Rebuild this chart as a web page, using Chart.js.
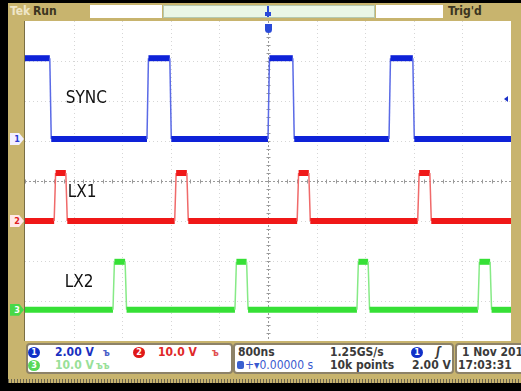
<!DOCTYPE html>
<html><head><meta charset="utf-8">
<script src="https://cdn.jsdelivr.net/npm/chart.js@4"></script>
<style>
html,body{margin:0;padding:0;background:#000;}
#scope{position:relative;width:521px;height:391px;overflow:hidden;background:#000;font-family:'Liberation Sans Narrow','DejaVu Sans Condensed',sans-serif;}
.a{position:absolute;white-space:nowrap;}
#frame{left:8px;top:3px;width:513px;height:376px;background:#c8b46e;}
#dots{left:8px;top:379px;width:513px;height:4px;background:repeating-linear-gradient(90deg,#6a6450 0 1px,#c8b46e 1px 3px);}
#plot{left:25px;top:21px;width:486px;height:320px;background:#fff;border-left:1px solid #7a6e44;margin-left:-1px;}
.tb{font-size:12px;font-weight:bold;top:4px;line-height:15px;}
.box{background:#fff;border:2px solid #8d8268;border-radius:4px;box-sizing:border-box;}
.t{font-size:12px;font-weight:bold;line-height:13px;color:#3a3a3a;}
.c{width:12px;height:11px;border-radius:50%;color:#fff;font-size:9px;font-weight:bold;text-align:center;line-height:11px;}
.mk{width:14px;height:12px;font-size:9px;font-weight:bold;line-height:12px;text-align:center;clip-path:polygon(0 0,65% 0,100% 50%,65% 100%,0 100%);}
</style></head>
<body>
<div id="scope">
  <div id="frame" class="a"></div>
  <div id="dots" class="a"></div>
  <!-- top bar -->
  <div class="a tb" style="left:10px;color:#efe6c8;">Tek</div>
  <div class="a tb" style="left:33px;color:#3b3520;">Run</div>
  <div class="a" style="left:90px;top:5px;width:72px;height:13px;background:#fff;"></div>
  <div class="a" style="left:163px;top:5px;width:212px;height:13px;background:#eaf6e6;border:1px solid #b5c9b0;box-sizing:border-box;"></div>
  <div class="a" style="left:376px;top:5px;width:67px;height:13px;background:#fff;"></div>
  <div class="a tb" style="left:448px;color:#3b3520;">Trig'd</div>
  <div class="a" style="left:267px;top:6px;width:2px;height:11px;background:#2a4ad8;"></div>
  <div class="a" style="left:265px;top:12px;width:6px;height:4px;background:#2a4ad8;"></div>
  <!-- plot -->
  <div id="plot" class="a"><canvas id="cv" width="486" height="320"></canvas></div>
  <div class="a" style="left:265px;top:24px;width:7px;height:9px;background:#2a4ad8;border-radius:0 0 4px 4px;"></div>
  <!-- channel markers -->
  <div id="m1" class="a mk" style="left:10px;background:#f2f0ff;color:#2a3ad0;border:0;">1</div>
  <div id="m2" class="a mk" style="left:10px;background:#ffe8e8;color:#e02020;">2</div>
  <div id="m3" class="a mk" style="left:10px;background:#48d848;color:#fff;">3</div>
  <!-- info bar -->
  <div class="a box" style="left:26px;top:343px;width:207px;height:31px;"></div>
  <div class="a box" style="left:233px;top:343px;width:221px;height:31px;"></div>
  <div class="a box" style="left:455px;top:343px;width:80px;height:31px;"></div>
  <div class="a c" style="left:28px;top:347px;background:#1030c8;">1</div>
  <div class="a t" style="left:55px;top:346px;color:#1a30c0;">2.00 V</div>
  <div class="a t" style="left:103px;top:346px;color:#4a60c8;font-size:10px;">ъ</div>
  <div class="a c" style="left:133px;top:347px;background:#e01818;">2</div>
  <div class="a t" style="left:158px;top:346px;color:#e02828;">10.0 V</div>
  <div class="a t" style="left:212px;top:346px;color:#e05050;font-size:10px;">ъ</div>
  <div class="a c" style="left:28px;top:360px;background:#58d858;">3</div>
  <div class="a t" style="left:55px;top:359px;color:#98e098;">10.0 V</div>
  <div class="a t" style="left:96px;top:359px;color:#98e098;font-size:10px;">ъъ</div>
  <div class="a t" style="left:238px;top:346px;">800ns</div>
  <div class="a" style="left:237px;top:361px;width:7px;height:8px;background:#3a60d0;border-radius:2px;"></div>
  <div class="a t" style="left:245px;top:359px;color:#3a5ad0;font-weight:normal;">+▾0.00000 s</div>
  <div class="a t" style="left:330px;top:346px;">1.25GS/s</div>
  <div class="a t" style="left:330px;top:359px;">10k points</div>
  <div class="a c" style="left:411px;top:347px;background:#1030c8;">1</div>
  <div class="a t" style="left:436px;top:346px;font-style:italic;">ʃ</div>
  <div class="a t" style="left:412px;top:359px;">2.00 V</div>
  <div class="a t" style="left:462px;top:346px;">1 Nov 2012</div>
  <div class="a t" style="left:458px;top:359px;">17:03:31</div>
</div>
<script>
// horizontal: 10 divisions, vertical: 8 divisions
const xDivs = 10, yDivs = 8;
// pulse [start, end] in divisions
const syncPulses = [[0.00, 0.51], [2.51, 2.98], [5.00, 5.51], [7.49, 7.98]];
const syncLevels = [5.05, 7.07];   // [low, high]
const lx1Pulses = [[0.60, 0.84], [3.08, 3.33], [5.60, 5.84], [8.08, 8.33]];
const lx1Levels = [3.00, 4.20];
const lx2Pulses = [[1.81, 2.06], [4.32, 4.56], [6.83, 7.06], [9.32, 9.57]];
const lx2Levels = [0.78, 1.98];
const labels = ['SYNC', 'LX1', 'LX2'];
const labelPos = [[0.84, 6.05], [0.88, 3.70], [0.82, 1.45]];
const triggerLevel = 6.05;

function steps(pulses, lv) {
  const pts = [];
  if (pulses[0][0] > 0) pts.push({x: 0, y: lv[0]});
  pulses.forEach(([s, e]) => {
    if (s > 0) { pts.push({x: s, y: lv[0]}); }
    pts.push({x: s + (s > 0 ? 0.03 : 0), y: lv[1]});
    pts.push({x: e, y: lv[1]});
    pts.push({x: e + 0.03, y: lv[0]});
  });
  pts.push({x: xDivs, y: lv[0]});
  return pts;
}
function ds(pulses, lv, core, edge) {
  return {
    data: steps(pulses, lv), borderColor: core, borderWidth: 6, pointRadius: 0, tension: 0,
    segment: {
      borderWidth: c => c.p0.parsed.y !== c.p1.parsed.y ? 1.5 : 6,
      borderColor: c => c.p0.parsed.y !== c.p1.parsed.y ? edge : core
    }
  };
}
const gridPlugin = {
  id: 'grat',
  beforeDatasetsDraw(ch) {
    const {ctx, scales: {x, y}} = ch;
    ctx.save();
    ctx.lineWidth = 1;
    ctx.setLineDash([1, 3]);
    ctx.strokeStyle = '#d6d6d6';
    for (let i = 1; i < xDivs; i++) {
      if (i === xDivs / 2) continue;
      const px = Math.round(x.getPixelForValue(i)) + 0.5;
      ctx.beginPath(); ctx.moveTo(px, y.top); ctx.lineTo(px, y.bottom); ctx.stroke();
    }
    for (let j = 1; j < yDivs; j++) {
      if (j === yDivs / 2) continue;
      const py = Math.round(y.getPixelForValue(j)) + 0.5;
      ctx.beginPath(); ctx.moveTo(x.left, py); ctx.lineTo(x.right, py); ctx.stroke();
    }
    ctx.strokeStyle = '#9a9a9a';
    ctx.setLineDash([2, 2]);
    const cx = Math.round(x.getPixelForValue(xDivs / 2)) + 0.5;
    const cy = Math.round(y.getPixelForValue(yDivs / 2)) + 0.5;
    ctx.beginPath(); ctx.moveTo(cx, y.top); ctx.lineTo(cx, y.bottom); ctx.stroke();
    ctx.beginPath(); ctx.moveTo(x.left, cy); ctx.lineTo(x.right, cy); ctx.stroke();
    ctx.setLineDash([]);
    for (let v = 0; v <= xDivs; v += 0.2) {
      const px = Math.round(x.getPixelForValue(v)) + 0.5;
      ctx.beginPath(); ctx.moveTo(px, cy - 2); ctx.lineTo(px, cy + 2); ctx.stroke();
    }
    for (let v = 0; v <= yDivs; v += 0.2) {
      const py = Math.round(y.getPixelForValue(v)) + 0.5;
      ctx.beginPath(); ctx.moveTo(cx - 2, py); ctx.lineTo(cx + 2, py); ctx.stroke();
    }
    ctx.restore();
  },
  afterDatasetsDraw(ch) {
    const {ctx, scales: {x, y}} = ch;
    ctx.save();
    ctx.fillStyle = '#111';
    ctx.font = "17px 'Liberation Sans Narrow','DejaVu Sans Condensed',sans-serif";
    ctx.textBaseline = 'middle';
    labels.forEach((t, i) => ctx.fillText(t, x.getPixelForValue(labelPos[i][0]), y.getPixelForValue(labelPos[i][1])));
    // trigger level marker on right edge
    const ty = y.getPixelForValue(triggerLevel);
    ctx.fillStyle = '#1a30c8';
    ctx.beginPath(); ctx.moveTo(x.right - 7, ty); ctx.lineTo(x.right - 3, ty - 3); ctx.lineTo(x.right - 3, ty + 3); ctx.closePath(); ctx.fill();
    ctx.restore();
  }
};
const chart = new Chart(document.getElementById('cv'), {
  type: 'line',
  data: {datasets: [
    ds(syncPulses, syncLevels, '#0e22d8', '#5a6ae6'),
    ds(lx1Pulses, lx1Levels, '#f01818', '#f06a6a'),
    ds(lx2Pulses, lx2Levels, '#36e036', '#86ea86')
  ]},
  options: {
    responsive: false, animation: false,
    layout: {padding: 0},
    plugins: {legend: {display: false}, tooltip: {enabled: false}},
    scales: {
      x: {type: 'linear', display: false, min: 0, max: xDivs},
      y: {type: 'linear', display: false, min: 0, max: yDivs}
    }
  },
  plugins: [gridPlugin]
});
[['m1', syncLevels[0]], ['m2', lx1Levels[0]], ['m3', lx2Levels[0]]].forEach(([id, lv]) => {
  document.getElementById(id).style.top = (21 + chart.scales.y.getPixelForValue(lv) - 6) + 'px';
});
</script>
</body></html>
